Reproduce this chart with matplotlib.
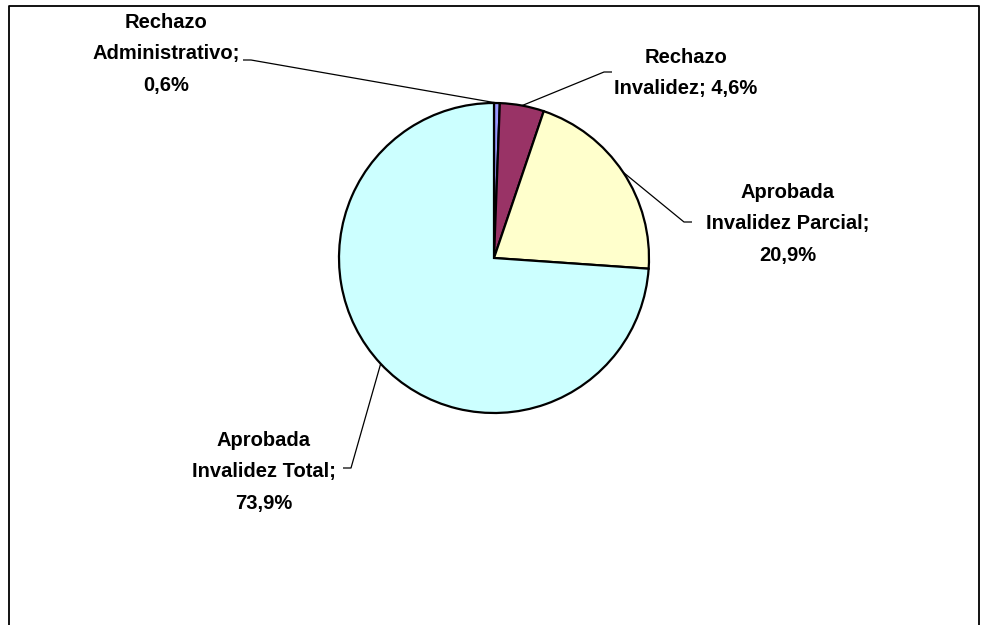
import numpy as np
import matplotlib
matplotlib.use("Agg")
import matplotlib.pyplot as plt

plt.rcParams["font.family"] = ["Liberation Sans", "DejaVu Sans"]

# slices, clockwise from 12 o'clock
labels = ["Rechazo\nAdministrativo;\n0,6%", "Rechazo\nInvalidez; 4,6%",
          "Aprobada\nInvalidez Parcial;\n20,9%", "Aprobada\nInvalidez Total;\n73,9%"]
shares = [0.6, 4.6, 20.9, 73.9]
colors = ["#9999FF", "#993366", "#FFFFCC", "#CCFFFF"]

W, H = 982, 625
fig = plt.figure(figsize=(W / 100, H / 100), dpi=100)
ax = fig.add_axes([0, 0, 1, 1])

cx, cy, r = 494, H - 258, 155
wedges, _ = ax.pie(shares, colors=colors, startangle=90, counterclock=False,
                   center=(cx, cy), radius=r, frame=True,
                   wedgeprops=dict(edgecolor="black", linewidth=1.6))
ax.set_xlim(0, W)
ax.set_ylim(0, H)
ax.set_aspect("equal")
ax.axis("off")

# label text centre and leader start (pixel coords, y from top)
text_pos = [(166, 54), (686, 73), (788, 224), (264, 472)]
leader_start = [(243, 60), (612, 72), (692, 222), (343, 468)]
tick_dir = [1, -1, -1, 1]

for w, lab, (tx, ty), (lx, ly), d in zip(wedges, labels, text_pos, leader_start, tick_dir):
    mid = np.deg2rad((w.theta1 + w.theta2) / 2)
    ex, ey = cx + r * np.cos(mid), cy + r * np.sin(mid)
    ax.text(tx, H - ty, lab, ha="center", va="center", fontsize=14.5,
            fontweight="bold", linespacing=1.82)
    ax.plot([lx, lx + d * 8, ex], [H - ly, H - ly, ey], color="black", lw=0.9,
            solid_capstyle="butt")

# chart frame (top, left, right)
ax.plot([9, 9, 979, 979], [0, H - 6, H - 6, 0], color="black", lw=1.3)

fig.savefig("out.png", dpi=100)
